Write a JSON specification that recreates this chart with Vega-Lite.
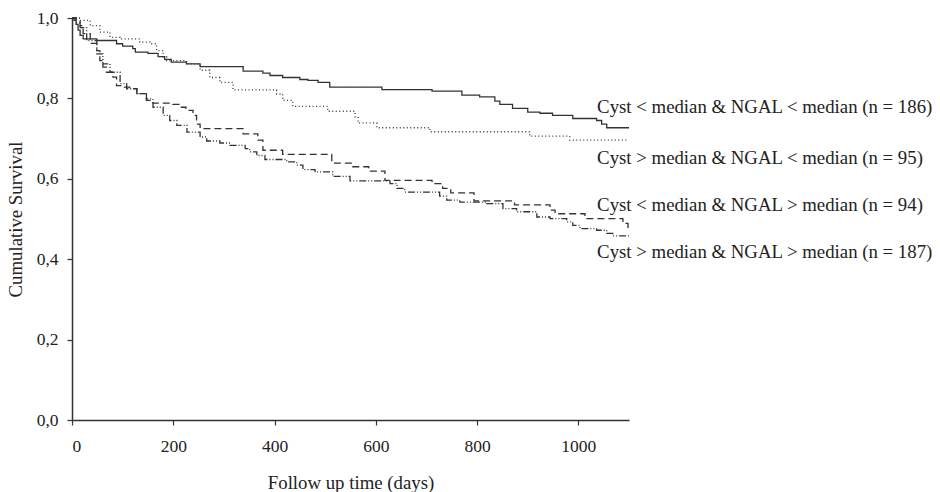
{
  "$schema": "https://vega.github.io/schema/vega-lite/v6.json",
  "autosize": {"type": "none"},
  "padding": {"left": 72, "top": 18, "right": 311, "bottom": 72},
  "width": 557,
  "height": 402,
  "background": "white",
  "config": {
    "font": "Liberation Serif",
    "view": {"stroke": null},
    "axis": {
      "grid": false,
      "domainColor": "#333",
      "domainWidth": 1.5,
      "tickColor": "#333",
      "tickWidth": 1.2,
      "tickSize": 5,
      "labelFont": "Liberation Serif",
      "labelFontSize": 17.5,
      "labelColor": "#222",
      "titleFont": "Liberation Serif",
      "titleFontSize": 18.8,
      "titleFontWeight": "normal",
      "titleColor": "#222"
    }
  },
  "datasets": {
    "curves": [
      {"series": "A", "day": 0, "surv": 1.0},
      {"series": "A", "day": 4, "surv": 0.994},
      {"series": "A", "day": 8, "surv": 0.984},
      {"series": "A", "day": 12, "surv": 0.97},
      {"series": "A", "day": 16, "surv": 0.957},
      {"series": "A", "day": 22, "surv": 0.948},
      {"series": "A", "day": 49, "surv": 0.944},
      {"series": "A", "day": 88, "surv": 0.936},
      {"series": "A", "day": 100, "surv": 0.93},
      {"series": "A", "day": 120, "surv": 0.924},
      {"series": "A", "day": 125, "surv": 0.915},
      {"series": "A", "day": 150, "surv": 0.912},
      {"series": "A", "day": 170, "surv": 0.904},
      {"series": "A", "day": 183, "surv": 0.897},
      {"series": "A", "day": 196, "surv": 0.89},
      {"series": "A", "day": 226, "surv": 0.886},
      {"series": "A", "day": 253, "surv": 0.879},
      {"series": "A", "day": 338, "surv": 0.868},
      {"series": "A", "day": 377, "surv": 0.863},
      {"series": "A", "day": 391, "surv": 0.857},
      {"series": "A", "day": 416, "surv": 0.852},
      {"series": "A", "day": 450, "surv": 0.847},
      {"series": "A", "day": 466, "surv": 0.845},
      {"series": "A", "day": 486, "surv": 0.84},
      {"series": "A", "day": 509, "surv": 0.828},
      {"series": "A", "day": 612, "surv": 0.822},
      {"series": "A", "day": 711, "surv": 0.818},
      {"series": "A", "day": 770, "surv": 0.808},
      {"series": "A", "day": 805, "surv": 0.804},
      {"series": "A", "day": 835, "surv": 0.793},
      {"series": "A", "day": 845, "surv": 0.785},
      {"series": "A", "day": 870, "surv": 0.775},
      {"series": "A", "day": 900, "surv": 0.766},
      {"series": "A", "day": 924, "surv": 0.763},
      {"series": "A", "day": 949, "surv": 0.758},
      {"series": "A", "day": 989, "surv": 0.75},
      {"series": "A", "day": 1036, "surv": 0.745},
      {"series": "A", "day": 1046, "surv": 0.736},
      {"series": "A", "day": 1056, "surv": 0.727},
      {"series": "A", "day": 1100, "surv": 0.727},

      {"series": "B", "day": 0, "surv": 1.0},
      {"series": "B", "day": 16, "surv": 0.994},
      {"series": "B", "day": 36, "surv": 0.981},
      {"series": "B", "day": 55, "surv": 0.965},
      {"series": "B", "day": 75, "surv": 0.952},
      {"series": "B", "day": 95, "surv": 0.948},
      {"series": "B", "day": 134, "surv": 0.94},
      {"series": "B", "day": 154, "surv": 0.936},
      {"series": "B", "day": 167, "surv": 0.919},
      {"series": "B", "day": 180, "surv": 0.903},
      {"series": "B", "day": 187, "surv": 0.894},
      {"series": "B", "day": 226, "surv": 0.886},
      {"series": "B", "day": 253, "surv": 0.87},
      {"series": "B", "day": 272, "surv": 0.852},
      {"series": "B", "day": 292, "surv": 0.84},
      {"series": "B", "day": 318, "surv": 0.821},
      {"series": "B", "day": 404, "surv": 0.811},
      {"series": "B", "day": 416, "surv": 0.795},
      {"series": "B", "day": 436, "surv": 0.78},
      {"series": "B", "day": 505, "surv": 0.768},
      {"series": "B", "day": 559, "surv": 0.754},
      {"series": "B", "day": 565, "surv": 0.739},
      {"series": "B", "day": 602, "surv": 0.727},
      {"series": "B", "day": 707, "surv": 0.717},
      {"series": "B", "day": 904, "surv": 0.706},
      {"series": "B", "day": 983, "surv": 0.696},
      {"series": "B", "day": 1095, "surv": 0.696},

      {"series": "C", "day": 0, "surv": 1.0},
      {"series": "C", "day": 8, "surv": 0.991},
      {"series": "C", "day": 16, "surv": 0.981},
      {"series": "C", "day": 22, "surv": 0.961},
      {"series": "C", "day": 36, "surv": 0.937},
      {"series": "C", "day": 49, "surv": 0.919},
      {"series": "C", "day": 55, "surv": 0.894},
      {"series": "C", "day": 61, "surv": 0.878},
      {"series": "C", "day": 68, "surv": 0.865},
      {"series": "C", "day": 81, "surv": 0.853},
      {"series": "C", "day": 88, "surv": 0.832},
      {"series": "C", "day": 101, "surv": 0.828},
      {"series": "C", "day": 114, "surv": 0.824},
      {"series": "C", "day": 128, "surv": 0.812},
      {"series": "C", "day": 147, "surv": 0.795},
      {"series": "C", "day": 160, "surv": 0.788},
      {"series": "C", "day": 199, "surv": 0.785},
      {"series": "C", "day": 213, "surv": 0.778},
      {"series": "C", "day": 225, "surv": 0.77},
      {"series": "C", "day": 239, "surv": 0.758},
      {"series": "C", "day": 246, "surv": 0.736},
      {"series": "C", "day": 253, "surv": 0.725},
      {"series": "C", "day": 338, "surv": 0.712},
      {"series": "C", "day": 367, "surv": 0.696},
      {"series": "C", "day": 377, "surv": 0.671},
      {"series": "C", "day": 416, "surv": 0.661},
      {"series": "C", "day": 513, "surv": 0.639},
      {"series": "C", "day": 553, "surv": 0.63},
      {"series": "C", "day": 586, "surv": 0.619},
      {"series": "C", "day": 618, "surv": 0.596},
      {"series": "C", "day": 711, "surv": 0.588},
      {"series": "C", "day": 732, "surv": 0.576},
      {"series": "C", "day": 748, "surv": 0.565},
      {"series": "C", "day": 794, "surv": 0.545},
      {"series": "C", "day": 874, "surv": 0.535},
      {"series": "C", "day": 944, "surv": 0.522},
      {"series": "C", "day": 954, "surv": 0.513},
      {"series": "C", "day": 1013, "surv": 0.501},
      {"series": "C", "day": 1088, "surv": 0.489},
      {"series": "C", "day": 1098, "surv": 0.48},
      {"series": "C", "day": 1100, "surv": 0.48},

      {"series": "D", "day": 0, "surv": 1.0},
      {"series": "D", "day": 8, "surv": 0.988},
      {"series": "D", "day": 16, "surv": 0.976},
      {"series": "D", "day": 29, "surv": 0.944},
      {"series": "D", "day": 49, "surv": 0.911},
      {"series": "D", "day": 61, "surv": 0.886},
      {"series": "D", "day": 75, "surv": 0.865},
      {"series": "D", "day": 95, "surv": 0.837},
      {"series": "D", "day": 108, "surv": 0.824},
      {"series": "D", "day": 128, "surv": 0.812},
      {"series": "D", "day": 147, "surv": 0.799},
      {"series": "D", "day": 160, "surv": 0.778},
      {"series": "D", "day": 180, "surv": 0.758},
      {"series": "D", "day": 193, "surv": 0.745},
      {"series": "D", "day": 207, "surv": 0.733},
      {"series": "D", "day": 227, "surv": 0.716},
      {"series": "D", "day": 253, "surv": 0.704},
      {"series": "D", "day": 266, "surv": 0.694},
      {"series": "D", "day": 292, "surv": 0.689},
      {"series": "D", "day": 312, "surv": 0.683},
      {"series": "D", "day": 342, "surv": 0.675},
      {"series": "D", "day": 351, "surv": 0.667},
      {"series": "D", "day": 365, "surv": 0.658},
      {"series": "D", "day": 381, "surv": 0.648},
      {"series": "D", "day": 424, "surv": 0.642},
      {"series": "D", "day": 444, "surv": 0.634},
      {"series": "D", "day": 456, "surv": 0.623},
      {"series": "D", "day": 480, "surv": 0.617},
      {"series": "D", "day": 515, "surv": 0.606},
      {"series": "D", "day": 549, "surv": 0.595},
      {"series": "D", "day": 628, "surv": 0.588},
      {"series": "D", "day": 642, "surv": 0.576},
      {"series": "D", "day": 657, "surv": 0.567},
      {"series": "D", "day": 726, "surv": 0.557},
      {"series": "D", "day": 740, "surv": 0.547},
      {"series": "D", "day": 766, "surv": 0.542},
      {"series": "D", "day": 819, "surv": 0.538},
      {"series": "D", "day": 851, "surv": 0.526},
      {"series": "D", "day": 878, "surv": 0.518},
      {"series": "D", "day": 918, "surv": 0.505},
      {"series": "D", "day": 944, "surv": 0.501},
      {"series": "D", "day": 977, "surv": 0.493},
      {"series": "D", "day": 989, "surv": 0.484},
      {"series": "D", "day": 1003, "surv": 0.476},
      {"series": "D", "day": 1036, "surv": 0.472},
      {"series": "D", "day": 1056, "surv": 0.464},
      {"series": "D", "day": 1068, "surv": 0.458},
      {"series": "D", "day": 1100, "surv": 0.458}
    ],
    "labels": [
      {"label": "Cyst < median & NGAL < median (n = 186)", "day": 1037, "surv": 0.779},
      {"label": "Cyst > median & NGAL < median (n = 95)", "day": 1037, "surv": 0.652},
      {"label": "Cyst < median & NGAL > median (n = 94)", "day": 1037, "surv": 0.535},
      {"label": "Cyst > median & NGAL > median (n = 187)", "day": 1037, "surv": 0.418}
    ]
  },
  "layer": [
    {
      "data": {"name": "curves"},
      "mark": {"type": "line", "interpolate": "step-after", "color": "#333", "strokeWidth": 1.3, "clip": false},
      "encoding": {
        "x": {
          "field": "day", "type": "quantitative",
          "scale": {"domain": [0, 1100], "nice": false, "zero": false},
          "axis": {"values": [0, 200, 400, 600, 800, 1000], "format": "d", "title": "Follow up time (days)", "labelPadding": 12, "titlePadding": 19}
        },
        "y": {
          "field": "surv", "type": "quantitative",
          "scale": {"domain": [0, 1], "nice": false},
          "axis": {"values": [0, 0.2, 0.4, 0.6, 0.8, 1.0], "labelExpr": "replace(format(datum.value, '.1f'), '.', ',')", "title": "Cumulative Survival", "labelPadding": 9, "titlePadding": 11}
        },
        "detail": {"field": "series"},
        "strokeDash": {
          "field": "series", "type": "nominal",
          "scale": {"domain": ["A", "B", "C", "D"], "range": [[1, 0], [1, 2.5], [7, 4], [7, 2, 1, 2, 1, 2]]},
          "legend": null
        }
      }
    },
    {
      "data": {"name": "labels"},
      "mark": {"type": "text", "align": "left", "baseline": "middle", "font": "Liberation Serif", "fontSize": 18.8, "color": "#222"},
      "encoding": {
        "x": {"field": "day", "type": "quantitative"},
        "y": {"field": "surv", "type": "quantitative"},
        "text": {"field": "label"}
      }
    }
  ]
}
